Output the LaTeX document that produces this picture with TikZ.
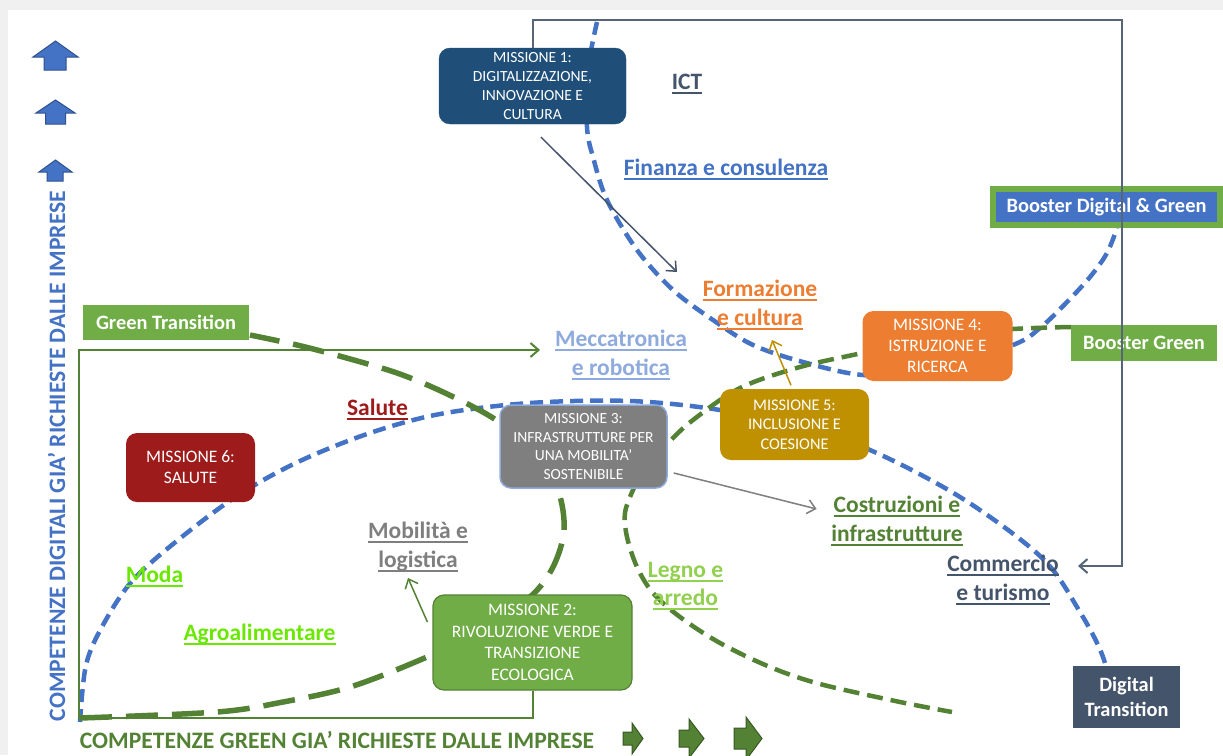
\documentclass[tikz,border=0pt]{standalone}
\usepackage{fontspec}
\setmainfont{Carlito}
\usetikzlibrary{arrows.meta}
\definecolor{cBlue}{HTML}{4472C4}
\definecolor{cBlueDark}{HTML}{2F528F}
\definecolor{cGreen}{HTML}{70AD47}
\definecolor{cGreenDark}{HTML}{548235}
\definecolor{cGreenDarker}{HTML}{385723}
\definecolor{cSlate}{HTML}{44546A}
\definecolor{cNavy}{HTML}{1F4E79}
\definecolor{cOrange}{HTML}{ED7D31}
\definecolor{cGold}{HTML}{BF9000}
\definecolor{cRed}{HTML}{9E1B1B}
\definecolor{cLightBlue}{HTML}{8FAADC}
\definecolor{cGrey}{HTML}{7F7F7F}
\definecolor{cLime}{HTML}{92D050}
\definecolor{cChart}{HTML}{6AE800}
\definecolor{cBack}{HTML}{F0F0F0}
\newcommand{\myul}[1]{\setbox0\hbox{#1}\rlap{\raisebox{-4.5pt}{\rule{\wd0}{2pt}}}\box0}
\begin{document}
\begin{tikzpicture}[x=1pt, y=-1pt,
 lbl/.style={inner sep=0pt, font=\fontsize{23.5}{28.3}\selectfont\bfseries, align=center},
 axlbl/.style={inner sep=0pt, font=\fontsize{23.6}{28}\selectfont\bfseries},
 mbox/.style={rounded corners=11pt, text=white, align=center, inner sep=0pt},
 tbox/.style={text=white, inner sep=0pt, font=\fontsize{20.4}{25}\selectfont\bfseries, align=center},
 bdash/.style={draw=cBlue, line width=4.5pt, dash pattern=on 13pt off 7pt},
 glong/.style={draw=cGreenDark, line width=5.5pt, dash pattern=on 32pt off 14pt},
 gshort/.style={draw=cGreenDark, line width=4.5pt, dash pattern=on 16pt off 8pt},
 conn/.style={line width=1.5pt, -{Straight Barb[length=8pt,width=14pt]}},
 elbow/.style={line width=2pt, -{Straight Barb[length=8pt,width=14pt]}},
 uparrow/.style={fill=cBlue, draw=cBlueDark, line width=1pt},
 rarrow/.style={fill=cGreenDark, draw=cGreenDarker, line width=1pt}]
\useasboundingbox (0,0) rectangle (1223,755);
\fill[cBack] (0,0) rectangle (1223,755);
\fill[white] (8,10) rectangle (1223,755);

% block arrows
\draw[uparrow] (44,70) -- (44,57) -- (33,57) -- (55.5,41) -- (78,57) -- (66,57) -- (66,70) -- cycle;
\draw[uparrow] (45.5,124) -- (45.5,113) -- (36,113) -- (55.5,100) -- (75,113) -- (65.5,113) -- (65.5,124) -- cycle;
\draw[uparrow] (47,181) -- (47,172) -- (39,172) -- (55.5,160) -- (72,172) -- (63,172) -- (63,181) -- cycle;
\draw[rarrow] (623,732) -- (632,732) -- (632,723) -- (643,738.5) -- (632,754) -- (632,745) -- (623,745) -- cycle;
\draw[rarrow] (679,730) -- (689,730) -- (689,719) -- (704,738.5) -- (689,758) -- (689,747) -- (679,747) -- cycle;
\draw[rarrow] (734,728) -- (746,728) -- (746,717) -- (762,738.5) -- (746,760) -- (746,749) -- (734,749) -- cycle;

% dashed curves
\draw[bdash] plot[smooth, tension=0.55] coordinates {(80,722) (86,665) (103,625) (133,580) (183,536) (240,494) (300,461) (370,433) (440,414) (530,403) (630,401) (720,410) (800,428) (870,450) (960,497) (1040,556) (1077,607) (1105,663) (1113,728)};
\draw[bdash] plot[smooth, tension=0.55] coordinates {(597,22) (588,70) (587,127) (593,157) (607,200) (637,250) (673,290) (713,320) (753,345) (803,362) (863,375) (930,372) (1013,345) (1040,328) (1067,302) (1090,277) (1107,253) (1117,228)};
\draw[glong] plot[smooth, tension=0.55] coordinates {(80,718) (217,712) (283,702) (350,687) (420,660) (480,632) (530,597) (553,567) (564,530) (558,490) (535,450) (493,418) (443,392) (397,373) (343,357) (297,345) (250,335)};
\draw[gshort] plot[smooth, tension=0.55] coordinates {(1071,327) (1013,329) (950,335) (900,344) (862,353) (800,367) (740,388) (693,420) (668,443) (645,468) (633,490) (625,513) (627,537) (637,567) (653,593) (680,617) (720,643) (770,667) (820,684) (900,702) (952,712)};

% mission boxes
\node[mbox, fill=cNavy, draw=cNavy, minimum width=187, minimum height=76, font=\fontsize{15.5}{19}\selectfont] (m1) at (532.5,86) {MISSIONE 1:\\DIGITALIZZAZIONE,\\INNOVAZIONE E\\CULTURA};
\node[mbox, fill=cGrey, draw=cLightBlue, line width=1.5pt, minimum width=167, minimum height=83, font=\fontsize{15.5}{18.7}\selectfont] (m3) at (583.5,446.5) {MISSIONE 3:\\INFRASTRUTTURE PER\\UNA MOBILITA’\\SOSTENIBILE};
\node[mbox, fill=cGreen, draw=cGreenDark, line width=1.2pt, minimum width=199, minimum height=95, font=\fontsize{17.5}{21.5}\selectfont] (m2) at (532.5,642.5) {MISSIONE 2:\\RIVOLUZIONE VERDE E\\TRANSIZIONE\\ECOLOGICA};
\node[mbox, fill=cGold, minimum width=149, minimum height=71, font=\fontsize{16.3}{19.5}\selectfont] (m5) at (794.5,424.5) {MISSIONE 5:\\INCLUSIONE E\\COESIONE};
\node[mbox, fill=cOrange, minimum width=150, minimum height=70, font=\fontsize{17.5}{21}\selectfont] (m4) at (937.5,346) {MISSIONE 4:\\ISTRUZIONE E\\RICERCA};
\node[mbox, fill=cRed, minimum width=129, minimum height=69, font=\fontsize{17.5}{21}\selectfont] (m6) at (190.5,467.5) {MISSIONE 6:\\SALUTE};

% title boxes
\node[tbox, fill=cGreen, minimum width=166, minimum height=35] (gt) at (166,322.5) {Green Transition};
\node[tbox, fill=cBlue, draw=cGreen, line width=6pt, minimum width=227, minimum height=36] (bdg) at (1106.5,207) {Booster Digital \& Green};
\node[tbox, fill=cGreen, minimum width=146, minimum height=36] (bg) at (1144,342.5) {Booster Green};
\node[tbox, fill=cSlate, minimum width=107, minimum height=62] (dt) at (1126.5,697) {Digital\\Transition};

% labels
\node[lbl, text=cSlate, anchor=base] (ict) at (687,89) {\myul{ICT}};
\node[lbl, text=cBlue, anchor=base] (fin) at (726,175) {\myul{Finanza e consulenza}};
\node[lbl, text=cOrange] (form) at (760,305) {\myul{Formazione}\\\myul{e cultura}};
\node[lbl, text=cLightBlue] (mecc) at (621,355) {\myul{Meccatronica}\\\myul{e robotica}};
\node[lbl, text=cRed, anchor=base] (sal) at (377.5,415) {\myul{Salute}};
\node[lbl, text=cGrey] (mob) at (418,547) {\myul{Mobilità e}\\\myul{logistica}};
\node[lbl, text=cGreenDark] (costr) at (897,521) {\myul{Costruzioni e}\\\myul{infrastrutture}};
\node[lbl, text=cSlate] (comm) at (1003,580) {\myul{Commercio}\\\myul{e turismo}};
\node[lbl, text=cLime] (legno) at (685.5,586) {\myul{Legno e}\\\myul{arredo}};
\node[lbl, text=cChart, anchor=base] (moda) at (154.5,582) {\myul{Moda}};
\node[lbl, text=cChart, anchor=base] (agro) at (259.5,640) {\myul{Agroalimentare}};

% axis titles
\node[axlbl, text=cGreenDark, anchor=base] (xax) at (337,748) {COMPETENZE GREEN GIA’ RICHIESTE DALLE IMPRESE};
\node[axlbl, text=cBlue, anchor=base, rotate=90] (yax) at (65,456) {COMPETENZE DIGITALI GIA’ RICHIESTE DALLE IMPRESE};

% connectors
\coordinate (origin) at (79,718);
\coordinate (topright) at (1122,20);
\draw[elbow, draw=cGreenDark] (m2.south) |- (origin) |- ([shift={(-81,-5)}]mecc.center);
\draw[elbow, draw=cSlate!90] (m1.north) |- (topright) |- ([shift={(75,-14)}]comm.center);
\draw[conn, draw=cSlate] ([shift={(8.5,13)}]m1.south) -- ([shift={(-83,-33)}]form.center);
\draw[conn, draw=cGold] ([shift={(-3.5,-3.5)}]m5.north) -- ([shift={(12,35)}]form.center);
\draw[conn, draw=cGrey] ([shift={(6,26.5)}]m3.east) -- ([shift={(-14.5,-12)}]costr.west);
\draw[conn, draw=cGreenDark] ([shift={(-5,-20.5)}]m2.west) -- ([shift={(-10,31)}]mob.center);
\end{tikzpicture}
\end{document}
